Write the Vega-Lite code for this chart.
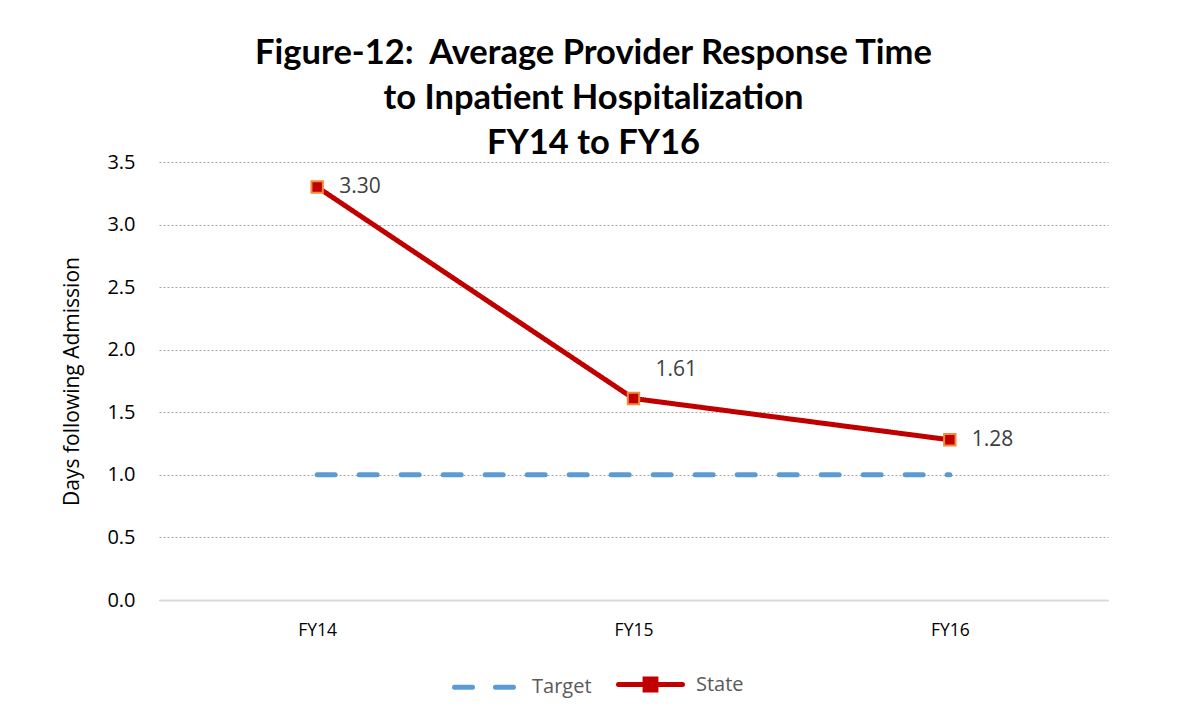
{
  "$schema": "https://vega.github.io/schema/vega-lite/v6.json",
  "autosize": {"type": "none"},
  "width": 949,
  "height": 438,
  "padding": {"left": 159, "top": 162, "right": 70, "bottom": 124},
  "background": "white",
  "title": {
    "text": ["Figure-12:\u00a0 Average Provider Response Time", "to Inpatient Hospitalization", "FY14 to FY16"],
    "font": "Lato",
    "fontSize": 34.5,
    "fontWeight": "bold",
    "color": "#000000",
    "lineHeight": 45,
    "anchor": "middle",
    "dx": -40,
    "offset": -9
  },
  "datasets": {
    "series": [
      {"year": "FY14", "series": "Target", "value": 1.0},
      {"year": "FY15", "series": "Target", "value": 1.0},
      {"year": "FY16", "series": "Target", "value": 1.0},
      {"year": "FY14", "series": "State", "value": 3.30},
      {"year": "FY15", "series": "State", "value": 1.61},
      {"year": "FY16", "series": "State", "value": 1.28}
    ]
  },
  "data": {"name": "series"},
  "encoding": {
    "x": {
      "field": "year",
      "type": "ordinal",
      "sort": ["FY14", "FY15", "FY16"],
      "scale": {"type": "point", "padding": 0.5},
      "axis": {
        "title": null,
        "labelAngle": 0,
        "labelFont": "Open Sans",
        "labelFontSize": 17.5,
        "labelColor": "#000000",
        "labelPadding": 21,
        "ticks": false,
        "grid": false,
        "domainColor": "#d9d9d9",
        "domainWidth": 2
      }
    },
    "y": {
      "field": "value",
      "type": "quantitative",
      "scale": {"domain": [0, 3.5], "nice": false, "zero": true},
      "axis": {
        "title": "Days following Admission",
        "titleFont": "Open Sans",
        "titleFontSize": 21,
        "titleFontWeight": "normal",
        "titleColor": "#000000",
        "titlePadding": 24,
        "values": [0, 0.5, 1, 1.5, 2, 2.5, 3, 3.5],
        "format": ".1f",
        "labelFont": "Open Sans",
        "labelFontSize": 20,
        "labelColor": "#000000",
        "labelPadding": 24,
        "ticks": false,
        "domain": false,
        "grid": true,
        "gridColor": "#a6a6a6",
        "gridDash": [2, 2],
        "gridWidth": 1
      }
    }
  },
  "layer": [
    {
      "mark": {"type": "line", "strokeWidth": 5, "strokeCap": "round"},
      "encoding": {
        "color": {
          "field": "series",
          "type": "nominal",
          "scale": {"domain": ["Target", "State"], "range": ["#5b9bd5", "#c00000"]},
          "legend": {
            "title": null,
            "orient": "none",
            "direction": "horizontal",
            "legendX": 293,
            "legendY": 488,
            "labelFont": "Open Sans",
            "labelFontSize": 20,
            "labelColor": "#595959",
            "symbolType": "stroke",
            "symbolSize": 4096,
            "symbolStrokeWidth": 5,
            "columnPadding": 16,
            "labelOffset": 11,
            "encode": {
              "symbols": {
                "update": {
                  "strokeCap": {"value": "round"},
                  "shape": {"signal": "datum.value === 'State' ? 'M-1,0H1M-0.17,-0.17H0.17V0.17H-0.17Z' : 'M-1,0H-0.28M0.28,0H1'"},
                  "fill": {"signal": "datum.value === 'State' ? '#c00000' : 'transparent'"},
                  "strokeDash": {"value": []}
                }
              }
            }
          }
        },
        "strokeDash": {
          "field": "series",
          "type": "nominal",
          "scale": {"domain": ["Target", "State"], "range": [[18, 24], [1, 0]]},
          "legend": null
        }
      }
    },
    {
      "transform": [{"filter": "datum.series === 'State'"}],
      "mark": {"type": "point", "shape": "square", "size": 130, "filled": true, "fill": "#c00000", "stroke": "#f08a3c", "strokeWidth": 2, "opacity": 1}
    },
    {
      "transform": [{"filter": "datum.series === 'State' && datum.year !== 'FY15'"}],
      "mark": {"type": "text", "align": "left", "baseline": "middle", "dx": 22, "font": "Open Sans", "fontSize": 21, "color": "#404040"},
      "encoding": {"text": {"field": "value", "type": "quantitative", "format": ".2f"}}
    },
    {
      "transform": [{"filter": "datum.series === 'State' && datum.year === 'FY15'"}],
      "mark": {"type": "text", "align": "left", "baseline": "middle", "dx": 22, "dy": -29, "font": "Open Sans", "fontSize": 21, "color": "#404040"},
      "encoding": {"text": {"field": "value", "type": "quantitative", "format": ".2f"}}
    }
  ],
  "config": {
    "view": {"stroke": null}
  }
}
